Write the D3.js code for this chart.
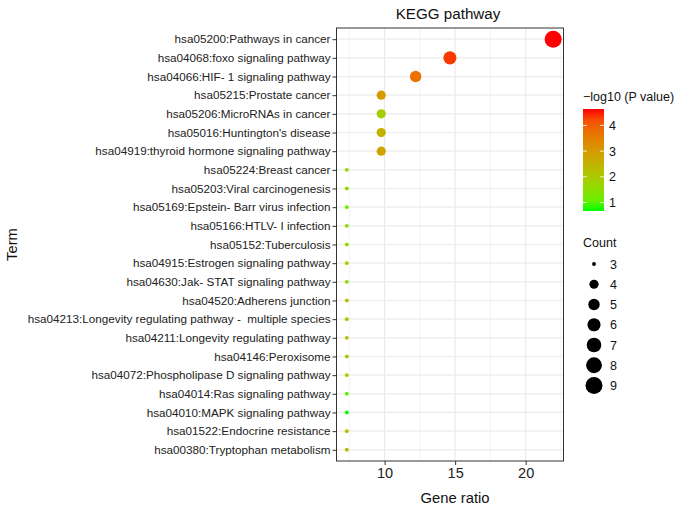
<!DOCTYPE html>
<html>
<head>
<meta charset="utf-8">
<script src="https://cdn.jsdelivr.net/npm/d3@7"></script>
<style>
  body { margin: 0; background: #fff; }
  text { font-family: "Liberation Sans", Arial, Helvetica, sans-serif; white-space: pre; }
</style>
</head>
<body>
<svg id="chart" width="682" height="510"></svg>
<script>
// values
var terms = [
  "hsa05200:Pathways in cancer",
  "hsa04068:foxo signaling pathway",
  "hsa04066:HIF- 1 signaling pathway",
  "hsa05215:Prostate cancer",
  "hsa05206:MicroRNAs in cancer",
  "hsa05016:Huntington's disease",
  "hsa04919:thyroid hormone signaling pathway",
  "hsa05224:Breast cancer",
  "hsa05203:Viral carcinogenesis",
  "hsa05169:Epstein- Barr virus infection",
  "hsa05166:HTLV- I infection",
  "hsa05152:Tuberculosis",
  "hsa04915:Estrogen signaling pathway",
  "hsa04630:Jak- STAT signaling pathway",
  "hsa04520:Adherens junction",
  "hsa04213:Longevity regulating pathway -  multiple species",
  "hsa04211:Longevity regulating pathway",
  "hsa04146:Peroxisome",
  "hsa04072:Phospholipase D signaling pathway",
  "hsa04014:Ras signaling pathway",
  "hsa04010:MAPK signaling pathway",
  "hsa01522:Endocrine resistance",
  "hsa00380:Tryptophan metabolism"
];
var counts = [9, 6, 5, 4, 4, 4, 4, 3, 3, 3, 3, 3, 3, 3, 3, 3, 3, 3, 3, 3, 3, 3, 3];
var geneRatio = [21.95, 14.63, 12.2, 9.76, 9.76, 9.76, 9.76,
  7.32, 7.32, 7.32, 7.32, 7.32, 7.32, 7.32, 7.32, 7.32, 7.32, 7.32, 7.32, 7.32, 7.32, 7.32, 7.32];
var logP = [4.64, 4.4, 3.75, 3.0, 1.9, 2.55, 2.8,
  1.7, 1.65, 1.15, 1.5, 1.6, 1.9, 1.6, 2.2, 2.2, 2.2, 2.1, 1.8, 1.05, 0.67, 2.25, 2.3];
var xTicks = [10, 15, 20];
var colorTicks = [1, 2, 3, 4];
var countLevels = [3, 4, 5, 6, 7, 8, 9];

var data = terms.map(function (t, i) {
  return {term: t, count: counts[i], ratio: geneRatio[i], p: logP[i]};
});

var svg = d3.select('#chart');
var panel = {left: 336.5, right: 563.5, top: 28, bottom: 461};

// ggplot style 5% expansion
var xMin = d3.min(geneRatio), xMax = d3.max(geneRatio);
var pad = (xMax - xMin) * 0.05;
var x = d3.scaleLinear().domain([xMin - pad, xMax + pad]).range([panel.left, panel.right]);
var y = d3.scalePoint().domain(terms).range([panel.top, panel.bottom]).padding(0.6);

var pMin = d3.min(logP), pMax = d3.max(logP);
var color = d3.scaleLinear().domain([pMin, pMax]).range(['#00ff00', '#ff0000']).interpolate(d3.interpolateLab);

var cMin = d3.min(countLevels), cMax = d3.max(countLevels);
var sizeS = d3.scaleLinear().domain([0, 1]).range([1, 6]);
function radius(c) {
  var s = sizeS(Math.sqrt((c - cMin) / (cMax - cMin)));
  return 0.46 * (s * 2.845 + 0.945) + 0.2;
}

// panel background + grid
svg.append('rect')
  .attr('x', panel.left).attr('y', panel.top)
  .attr('width', panel.right - panel.left).attr('height', panel.bottom - panel.top)
  .attr('fill', '#fff');

var grid = svg.append('g');
var minor = [];
for (var i = 0; i < xTicks.length; i++) {
  minor.push(xTicks[i] - 2.5);
}
minor.push(xTicks[xTicks.length - 1] + 2.5);
grid.selectAll('.minor').data(minor.filter(function (v) { return x(v) > panel.left && x(v) < panel.right; }))
  .enter().append('line')
  .attr('x1', d => x(d)).attr('x2', d => x(d))
  .attr('y1', panel.top).attr('y2', panel.bottom)
  .attr('stroke', '#ebebeb').attr('stroke-width', 0.6);
grid.selectAll('.vmajor').data(xTicks).enter().append('line')
  .attr('x1', d => x(d)).attr('x2', d => x(d))
  .attr('y1', panel.top).attr('y2', panel.bottom)
  .attr('stroke', '#ebebeb').attr('stroke-width', 1.2);
grid.selectAll('.hmajor').data(terms).enter().append('line')
  .attr('x1', panel.left).attr('x2', panel.right)
  .attr('y1', d => y(d)).attr('y2', d => y(d))
  .attr('stroke', '#ebebeb').attr('stroke-width', 1.2);

// points
svg.append('g').selectAll('circle').data(data).enter().append('circle')
  .attr('cx', d => x(d.ratio))
  .attr('cy', d => y(d.term))
  .attr('r', d => radius(d.count))
  .attr('fill', d => color(d.p));

// panel border
svg.append('rect')
  .attr('x', panel.left).attr('y', panel.top)
  .attr('width', panel.right - panel.left).attr('height', panel.bottom - panel.top)
  .attr('fill', 'none').attr('stroke', '#333').attr('stroke-width', 1);

// axes
var gx = svg.append('g')
  .attr('transform', `translate(0,${panel.bottom})`)
  .call(d3.axisBottom(x).tickValues(xTicks).tickSize(4).tickPadding(3));
var gy = svg.append('g')
  .attr('transform', `translate(${panel.left},0)`)
  .call(d3.axisLeft(y).tickSize(4).tickPadding(2));
[gx, gy].forEach(function (g) {
  g.select('.domain').remove();
  g.selectAll('.tick line').attr('stroke', '#333').attr('stroke-width', 1);
  g.selectAll('.tick text').attr('fill', '#222');
});
gx.selectAll('.tick text').style('font-size', '14.5px');
gy.selectAll('.tick text').style('font-size', '11.7px');

// titles
svg.append('text').text('KEGG pathway')
  .attr('x', (panel.left + panel.right) / 2 - 2).attr('y', 19)
  .attr('text-anchor', 'middle').style('font-size', '15.2px').attr('fill', '#111');
svg.append('text').text('Gene ratio')
  .attr('x', (panel.left + panel.right) / 2 + 5).attr('y', 503)
  .attr('text-anchor', 'middle').style('font-size', '14.8px').attr('fill', '#111');
svg.append('text').text('Term')
  .attr('transform', `translate(17,${(panel.top + panel.bottom) / 2}) rotate(-90)`)
  .attr('text-anchor', 'middle').style('font-size', '14.8px').attr('fill', '#111');

// colour bar legend
var bar = {x: 583, y: 109, w: 21, h: 102};
var barScale = d3.scaleLinear().domain([pMin, pMax]).range([bar.y + bar.h, bar.y]);
var defs = svg.append('defs');
var grad = defs.append('linearGradient').attr('id', 'pgrad')
  .attr('x1', 0).attr('y1', 1).attr('x2', 0).attr('y2', 0);
d3.range(0, 1.0001, 0.1).forEach(function (t) {
  grad.append('stop').attr('offset', t)
    .attr('stop-color', color(pMin + t * (pMax - pMin)));
});
svg.append('text').text('\u2212log10 (P value)')
  .attr('x', bar.x).attr('y', 101).style('font-size', '12.5px').attr('fill', '#111');
svg.append('rect').attr('x', bar.x).attr('y', bar.y).attr('width', bar.w).attr('height', bar.h)
  .attr('fill', 'url(#pgrad)');
var cb = svg.append('g');
cb.selectAll('.tl').data(colorTicks).enter().append('line')
  .attr('x1', bar.x).attr('x2', bar.x + 4)
  .attr('y1', d => barScale(d)).attr('y2', d => barScale(d))
  .attr('stroke', '#fff').attr('stroke-width', 0.8);
cb.selectAll('.tr').data(colorTicks).enter().append('line')
  .attr('x1', bar.x + bar.w - 4).attr('x2', bar.x + bar.w)
  .attr('y1', d => barScale(d)).attr('y2', d => barScale(d))
  .attr('stroke', '#fff').attr('stroke-width', 0.8);
cb.selectAll('text').data(colorTicks).enter().append('text')
  .text(d => d)
  .attr('x', bar.x + bar.w + 5).attr('y', d => barScale(d) + 4.5)
  .style('font-size', '12.5px').attr('fill', '#111');

// size legend
svg.append('text').text('Count')
  .attr('x', bar.x).attr('y', 247).style('font-size', '12.5px').attr('fill', '#111');
var sl = svg.append('g').selectAll('g').data(countLevels).enter().append('g')
  .attr('transform', (d, i) => `translate(594,${264 + i * 20.25})`);
sl.append('circle').attr('r', d => radius(d)).attr('fill', '#000');
sl.append('text').text(d => d).attr('x', 16).attr('y', 4.5)
  .style('font-size', '12.5px').attr('fill', '#111');
</script>
</body>
</html>
